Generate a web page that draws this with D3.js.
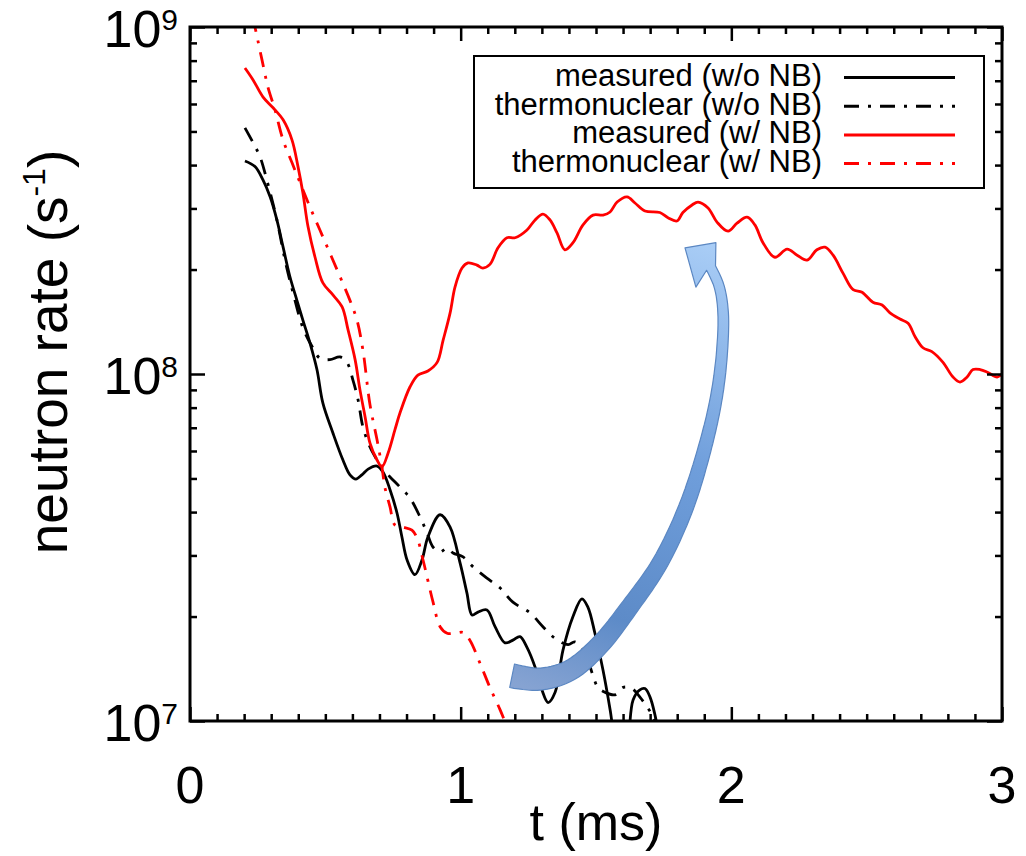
<!DOCTYPE html>
<html>
<head>
<meta charset="utf-8">
<script src="https://cdn.jsdelivr.net/npm/d3@7"></script>
<style>
  body { margin: 0; background: #fff; }
  svg { display: block; font-family: "Liberation Sans", Arial, Helvetica, sans-serif; }
</style>
</head>
<body>
<div id="main"></div>
<script>
// series: [t (ms), neutron rate (1/s)]
const measuredNoNB = [
  [0.203, 4.11e8], [0.240, 3.96e8], [0.270, 3.62e8], [0.296, 3.24e8], [0.321, 2.78e8],
  [0.344, 2.32e8], [0.369, 1.91e8], [0.395, 1.63e8], [0.417, 1.43e8], [0.443, 1.23e8],
  [0.469, 1.03e8], [0.491, 8.24e7], [0.528, 6.76e7], [0.565, 5.65e7], [0.591, 5.12e7],
  [0.613, 4.98e7], [0.635, 5.12e7], [0.658, 5.32e7], [0.691, 5.43e7], [0.713, 5.22e7],
  [0.739, 4.64e7], [0.765, 3.97e7], [0.783, 3.39e7], [0.802, 2.91e7], [0.831, 2.64e7],
  [0.857, 2.91e7], [0.879, 3.39e7], [0.924, 3.93e7], [0.961, 3.62e7], [0.998, 2.85e7],
  [1.023, 2.34e7], [1.042, 2.02e7], [1.064, 2.06e7], [1.097, 2.09e7], [1.127, 1.87e7],
  [1.164, 1.68e7], [1.193, 1.71e7], [1.219, 1.75e7], [1.245, 1.63e7], [1.275, 1.43e7],
  [1.300, 1.23e7], [1.323, 1.13e7], [1.349, 1.21e7], [1.378, 1.60e7], [1.415, 2.00e7],
  [1.448, 2.25e7], [1.470, 2.13e7], [1.496, 1.79e7], [1.526, 1.40e7], [1.552, 1.08e7],
  [1.570, 8.8e6], [1.596, 7.7e6], [1.618, 8.8e6], [1.637, 1.15e7], [1.662, 1.23e7],
  [1.681, 1.24e7], [1.700, 1.17e7], [1.718, 1.04e7], [1.736, 8.8e6], [1.770, 6.8e6]
];
const thermoNoNB = [
  [0.203, 5.12e8], [0.233, 4.64e8], [0.259, 4.22e8], [0.284, 3.62e8], [0.321, 2.78e8],
  [0.351, 2.13e8], [0.381, 1.71e8], [0.417, 1.36e8], [0.451, 1.20e8], [0.480, 1.11e8],
  [0.517, 1.10e8], [0.554, 1.12e8], [0.580, 1.08e8], [0.602, 9.6e7], [0.621, 8.42e7],
  [0.639, 7.03e7], [0.665, 6.16e7], [0.691, 5.65e7], [0.709, 5.36e7], [0.739, 5.05e7],
  [0.776, 4.72e7], [0.813, 4.39e7], [0.850, 3.87e7], [0.876, 3.48e7], [0.898, 3.17e7],
  [0.924, 3.07e7], [0.950, 3.15e7], [0.972, 3.05e7], [1.009, 2.97e7], [1.046, 2.78e7],
  [1.097, 2.58e7], [1.145, 2.42e7], [1.193, 2.20e7], [1.256, 2.05e7], [1.304, 1.87e7],
  [1.349, 1.73e7], [1.397, 1.66e7], [1.422, 1.69e7], [1.459, 1.58e7], [1.485, 1.38e7],
  [1.507, 1.25e7], [1.533, 1.21e7], [1.570, 1.19e7], [1.600, 1.25e7], [1.633, 1.24e7],
  [1.663, 1.17e7], [1.688, 1.10e7], [1.711, 1.03e7], [1.736, 9.1e6]
];
const measuredNB = [
  [0.203, 7.62e8], [0.233, 7.04e8], [0.270, 6.28e8], [0.307, 5.85e8], [0.344, 5.40e8],
  [0.377, 4.72e8], [0.399, 3.96e8], [0.417, 3.33e8], [0.436, 2.66e8], [0.462, 2.17e8],
  [0.491, 1.83e8], [0.528, 1.69e8], [0.562, 1.56e8], [0.584, 1.34e8], [0.610, 1.10e8],
  [0.628, 9.0e7], [0.647, 7.52e7], [0.665, 6.32e7], [0.691, 5.65e7], [0.709, 5.40e7],
  [0.732, 5.92e7], [0.757, 6.90e7], [0.776, 7.73e7], [0.813, 9.19e7], [0.842, 9.93e7],
  [0.879, 1.02e8], [0.913, 1.08e8], [0.935, 1.25e8], [0.961, 1.50e8], [0.979, 1.78e8],
  [1.005, 2.02e8], [1.027, 2.09e8], [1.060, 2.06e8], [1.082, 2.02e8], [1.108, 2.07e8],
  [1.138, 2.31e8], [1.171, 2.47e8], [1.201, 2.47e8], [1.245, 2.60e8], [1.275, 2.78e8],
  [1.304, 2.89e8], [1.330, 2.78e8], [1.356, 2.55e8], [1.385, 2.28e8], [1.415, 2.39e8],
  [1.452, 2.69e8], [1.489, 2.87e8], [1.526, 2.87e8], [1.552, 2.93e8], [1.578, 3.13e8],
  [1.615, 3.24e8], [1.644, 3.11e8], [1.681, 2.95e8], [1.736, 2.92e8], [1.766, 2.82e8],
  [1.799, 2.76e8], [1.821, 2.92e8], [1.855, 3.07e8], [1.877, 3.13e8], [1.914, 3.01e8],
  [1.947, 2.74e8], [1.988, 2.58e8], [2.021, 2.72e8], [2.058, 2.83e8], [2.087, 2.69e8],
  [2.117, 2.39e8], [2.161, 2.17e8], [2.206, 2.29e8], [2.243, 2.20e8], [2.280, 2.13e8],
  [2.316, 2.28e8], [2.346, 2.32e8], [2.376, 2.20e8], [2.413, 1.95e8], [2.450, 1.75e8],
  [2.483, 1.72e8], [2.523, 1.61e8], [2.557, 1.58e8], [2.586, 1.50e8], [2.623, 1.44e8],
  [2.653, 1.40e8], [2.679, 1.28e8], [2.708, 1.19e8], [2.741, 1.16e8], [2.782, 1.08e8],
  [2.819, 9.8e7], [2.845, 9.48e7], [2.871, 9.8e7], [2.893, 1.03e8], [2.919, 1.03e8],
  [2.948, 1.01e8], [2.982, 9.8e7], [3.000, 1.0e8]
];
const thermoNB = [
  [0.203, 1.35e9], [0.240, 1.0e9], [0.266, 8.04e8], [0.288, 6.71e8], [0.314, 5.77e8],
  [0.344, 4.72e8], [0.377, 4.06e8], [0.406, 3.57e8], [0.443, 3.03e8], [0.480, 2.60e8],
  [0.517, 2.23e8], [0.554, 1.91e8], [0.591, 1.63e8], [0.617, 1.43e8], [0.639, 1.17e8],
  [0.665, 8.15e7], [0.691, 6.46e7], [0.709, 5.40e7], [0.720, 4.72e7], [0.739, 4.14e7],
  [0.757, 3.67e7], [0.787, 3.62e7], [0.820, 3.55e7], [0.839, 3.37e7], [0.861, 2.91e7],
  [0.898, 2.20e7], [0.924, 1.87e7], [0.950, 1.79e7], [0.979, 1.79e7], [1.009, 1.80e7],
  [1.034, 1.71e7], [1.071, 1.47e7], [1.108, 1.25e7], [1.145, 1.08e7], [1.164, 9.93e6],
  [1.182, 9.1e6]
];

// blue annotation arrow, centre line and head in data units
const arrowLine = [
  [1.190, 1.35e7], [1.293, 1.32e7], [1.404, 1.40e7], [1.515, 1.66e7], [1.626, 2.14e7],
  [1.736, 2.85e7], [1.829, 4.06e7], [1.895, 5.85e7], [1.943, 8.41e7], [1.966, 1.17e8],
  [1.969, 1.53e8], [1.954, 1.80e8], [1.925, 2.02e8]
];
const arrowHead = { outer: [1.943, 2.39e8], tip: [1.829, 2.31e8], inner: [1.869, 1.78e8] };

const xMajor = [0, 1, 2, 3];
const xMinor = d3.range(1, 30).filter(i => i % 10 !== 0).map(i => i / 10);
const yDecades = [7, 8, 9];
const yMinor = [7, 8].flatMap(e => d3.range(2, 10).map(k => k * Math.pow(10, e)));

const legendLabels = ['measured (w/o NB)', 'thermonuclear (w/o NB)', 'measured (w/ NB)', 'thermonuclear (w/ NB)'];
const legendColors = ['#000', '#000', '#ff0000', '#ff0000'];
const legendDashed = [false, true, false, true];
const seriesList = [measuredNoNB, thermoNoNB, measuredNB, thermoNB];

function main() {
  const width = 1026;
  const height = 856;
  const left = 190, right = 1002, top = 27, bottom = 721;
  const dashDot = '15,9,3,9';

  const x = d3.scaleLinear().domain([0, 3]).range([left, right]);
  const y = d3.scaleLog().domain([1e7, 1e9]).range([bottom, top]);

  const svg = d3.select('#main').append('svg')
    .attr('width', width)
    .attr('height', height);

  const defs = svg.append('defs');
  defs.append('clipPath').attr('id', 'plotClip')
    .append('rect')
    .attr('x', left).attr('y', top)
    .attr('width', right - left).attr('height', bottom - top);

  // curves
  const line = d3.line()
    .x(d => x(d[0]))
    .y(d => y(d[1]))
    .curve(d3.curveCatmullRom.alpha(0.5));

  const curves = svg.append('g').attr('clip-path', 'url(#plotClip)');
  seriesList.forEach((s, i) => {
    curves.append('path')
      .datum(s)
      .attr('d', line)
      .attr('fill', 'none')
      .attr('stroke', legendColors[i])
      .attr('stroke-width', 2.8)
      .attr('stroke-linejoin', 'round')
      .attr('stroke-dasharray', legendDashed[i] ? dashDot : null);
  });

  // curved arrow: offset the smoothed centre line by a tapering half width
  const arrowPts = arrowLine.map(d => [x(d[0]), y(d[1])]);
  const widths = [24, 22, 20.5, 19, 17.5, 16, 15, 13.5, 12, 11, 10.5, 10, 10];
  const tmp = svg.append('path')
    .attr('d', d3.line().curve(d3.curveCatmullRom.alpha(0.5))(arrowPts))
    .attr('fill', 'none');
  const node = tmp.node();
  const total = node.getTotalLength();
  const cum = [0];
  for (let i = 1; i < arrowPts.length; i++) {
    cum.push(cum[i - 1] + Math.hypot(arrowPts[i][0] - arrowPts[i - 1][0], arrowPts[i][1] - arrowPts[i - 1][1]));
  }
  const wScale = d3.scaleLinear().domain(cum.map(c => c / cum[cum.length - 1])).range(widths);
  const n = 120;
  const samples = d3.range(n + 1).map(i => {
    const p = node.getPointAtLength(total * i / n);
    return [p.x, p.y];
  });
  tmp.remove();
  const plus = [], minus = [];
  samples.forEach((p, i) => {
    const a = samples[Math.max(0, i - 1)], b = samples[Math.min(n, i + 1)];
    let dx = b[0] - a[0], dy = b[1] - a[1];
    const len = Math.hypot(dx, dy) || 1;
    dx /= len; dy /= len;
    const w = wScale(i / n) / 2;
    plus.push([p[0] - dy * w, p[1] + dx * w]);
    minus.push([p[0] + dy * w, p[1] - dx * w]);
  });
  const headPts = [arrowHead.outer, arrowHead.tip, arrowHead.inner].map(d => [x(d[0]), y(d[1])]);
  const outline = plus.concat(headPts, minus.reverse());

  const grad = defs.append('linearGradient').attr('id', 'arrowGrad')
    .attr('gradientUnits', 'userSpaceOnUse')
    .attr('x1', x(1.9)).attr('y1', y(2.4e8))
    .attr('x2', x(1.3)).attr('y2', y(1.2e7));
  grad.append('stop').attr('offset', 0).attr('stop-color', '#a9cdf6');
  grad.append('stop').attr('offset', 0.45).attr('stop-color', '#6f9edb');
  grad.append('stop').attr('offset', 0.8).attr('stop-color', '#5d8bc8');
  grad.append('stop').attr('offset', 1).attr('stop-color', '#86a3d2');

  svg.append('path')
    .attr('d', 'M' + outline.map(p => p[0].toFixed(1) + ',' + p[1].toFixed(1)).join('L') + 'Z')
    .attr('fill', 'url(#arrowGrad)')
    .attr('stroke', '#5b87c2')
    .attr('stroke-width', 1.2)
    .attr('stroke-linejoin', 'round');

  // ticks on all four sides, pointing inward
  function ticks(axis, tx, ty) {
    const g = svg.append('g').attr('transform', `translate(${tx},${ty})`).call(axis);
    g.select('.domain').remove();
    g.selectAll('.tick line').attr('stroke', '#000').attr('stroke-width', 2.5);
    g.selectAll('.tick text').remove();
  }
  ticks(d3.axisBottom(x).tickValues(xMajor).tickSize(-14), 0, bottom);
  ticks(d3.axisBottom(x).tickValues(xMinor).tickSize(-7), 0, bottom);
  ticks(d3.axisTop(x).tickValues(xMajor).tickSize(-14), 0, top);
  ticks(d3.axisTop(x).tickValues(xMinor).tickSize(-7), 0, top);
  const yMajorVals = yDecades.map(e => Math.pow(10, e));
  ticks(d3.axisLeft(y).tickValues(yMajorVals).tickSize(-15), left, 0);
  ticks(d3.axisLeft(y).tickValues(yMinor).tickSize(-7), left, 0);
  ticks(d3.axisRight(y).tickValues(yMajorVals).tickSize(-15), right, 0);
  ticks(d3.axisRight(y).tickValues(yMinor).tickSize(-7), right, 0);

  // frame
  svg.append('rect')
    .attr('x', left).attr('y', top)
    .attr('width', right - left).attr('height', bottom - top)
    .attr('fill', 'none')
    .attr('stroke', '#000')
    .attr('stroke-width', 3);

  // tick labels
  svg.append('g').selectAll('text')
    .data(xMajor)
    .enter()
    .append('text')
    .attr('x', d => x(d))
    .attr('y', 803)
    .attr('text-anchor', 'middle')
    .attr('font-size', 52)
    .text(d => d);

  const yl = svg.append('g').selectAll('text')
    .data(yDecades)
    .enter()
    .append('text')
    .attr('x', 178)
    .attr('y', d => y(Math.pow(10, d)) + 20)
    .attr('text-anchor', 'end')
    .attr('font-size', 52);
  yl.append('tspan').text('10');
  yl.append('tspan').attr('font-size', 30).attr('dy', -17).text(d => d);

  // axis titles
  svg.append('text')
    .attr('x', (left + right) / 2)
    .attr('y', 840)
    .attr('text-anchor', 'middle')
    .attr('font-size', 52)
    .text('t (ms)');

  const yt = svg.append('text')
    .attr('transform', 'translate(67,352) rotate(-90)')
    .attr('text-anchor', 'middle')
    .attr('font-size', 55);
  yt.append('tspan').text('neutron rate (s');
  yt.append('tspan').attr('font-size', 32).attr('dy', -22).text('-1');
  yt.append('tspan').attr('dy', 22).text(')');

  // legend
  const lg = svg.append('g');
  lg.append('rect')
    .attr('x', 474).attr('y', 56)
    .attr('width', 510).attr('height', 132)
    .attr('fill', '#fff')
    .attr('stroke', '#000')
    .attr('stroke-width', 2);
  legendLabels.forEach((lab, i) => {
    const base = 86 + i * 28.7;
    lg.append('text')
      .attr('x', 822)
      .attr('y', base)
      .attr('text-anchor', 'end')
      .attr('font-size', 31)
      .text(lab);
    lg.append('line')
      .attr('x1', 844).attr('x2', 955)
      .attr('y1', base - 8.5).attr('y2', base - 8.5)
      .attr('stroke', legendColors[i])
      .attr('stroke-width', 3)
      .attr('stroke-dasharray', legendDashed[i] ? dashDot : null);
  });
}

main();
</script>
</body>
</html>
